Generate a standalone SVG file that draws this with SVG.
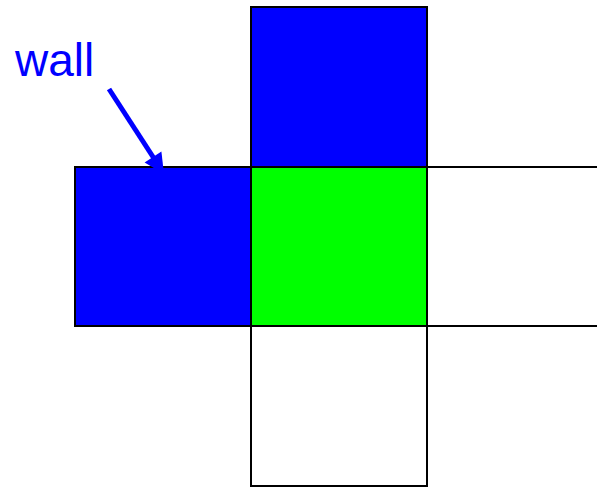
<svg xmlns="http://www.w3.org/2000/svg" width="597" height="487" viewBox="0 0 597 487">
<style>
.cell{stroke:#000;stroke-width:2}
.wall{fill:#0000ff}
.goal{fill:#00ff00}
.empty{fill:#ffffff}
.lbl{font-family:"Liberation Sans",Arial,sans-serif;font-size:46px;fill:#0000ff}
.arrow{stroke:#0000ff;stroke-width:5;fill:none}
.head{fill:#0000ff}
</style>
<rect width="597" height="487" fill="#fff"/>
<g id="cell-top"><rect class="cell wall" x="251" y="7" width="176" height="160"/></g>
<g id="cell-left"><rect class="cell wall" x="75" y="167" width="176" height="159"/></g>
<g id="cell-center"><rect class="cell goal" x="251" y="167" width="176" height="159"/></g>
<g id="cell-right"><rect class="cell empty" x="427" y="167" width="180" height="159"/></g>
<g id="cell-bottom"><rect class="cell empty" x="251" y="326" width="176" height="160"/></g>
<g id="label-wall"><text class="lbl" x="15" y="76">wall</text></g>
<g id="connectors">
<line class="arrow" x1="109" y1="89" x2="155" y2="160"/>
<polygon class="head" points="164,174 161.4,151.5 144.6,162.5"/>
</g>
</svg>
